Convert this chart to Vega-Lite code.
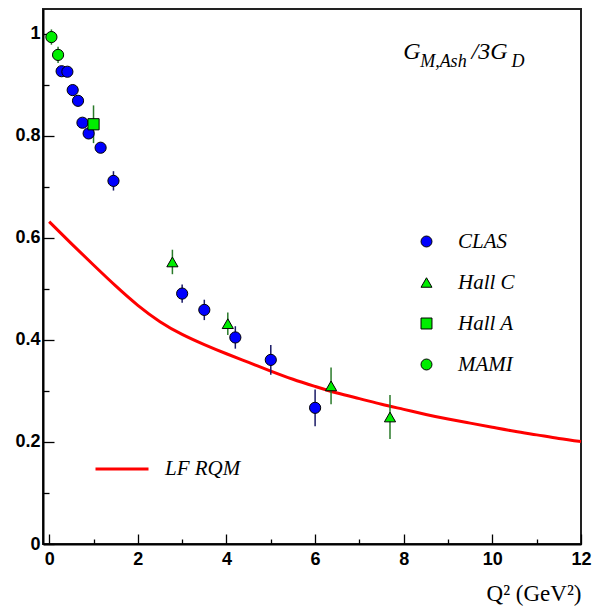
{
  "$schema": "https://vega.github.io/schema/vega-lite/v6.json",
  "width": 538,
  "height": 535,
  "autosize": {"type": "none"},
  "padding": {"left": 43, "top": 9, "right": 11, "bottom": 66},
  "background": "white",
  "config": {
    "view": {"stroke": "#222222", "strokeWidth": 2},
    "axis": {
      "grid": false,
      "domainColor": "black",
      "domainWidth": 2,
      "tickColor": "black",
      "tickWidth": 1.3,
      "labelFont": "Liberation Sans",
      "labelFontWeight": "bold",
      "labelFontSize": 18,
      "labelColor": "black",
      "labelOverlap": false,
      "labelFlush": false
    }
  },
  "datasets": {
    "pts": [
      {"exp": "CLAS", "q2": 0.28, "g": 0.927, "err": 0.006},
      {"exp": "CLAS", "q2": 0.41, "g": 0.926, "err": 0.006},
      {"exp": "CLAS", "q2": 0.53, "g": 0.890, "err": 0.006},
      {"exp": "CLAS", "q2": 0.65, "g": 0.869, "err": 0.006},
      {"exp": "CLAS", "q2": 0.75, "g": 0.826, "err": 0.006},
      {"exp": "CLAS", "q2": 0.89, "g": 0.805, "err": 0.006},
      {"exp": "CLAS", "q2": 1.16, "g": 0.777, "err": 0.010},
      {"exp": "CLAS", "q2": 1.45, "g": 0.712, "err": 0.019},
      {"exp": "CLAS", "q2": 3.0, "g": 0.491, "err": 0.018},
      {"exp": "CLAS", "q2": 3.5, "g": 0.459, "err": 0.020},
      {"exp": "CLAS", "q2": 4.2, "g": 0.405, "err": 0.022},
      {"exp": "CLAS", "q2": 5.0, "g": 0.361, "err": 0.029},
      {"exp": "CLAS", "q2": 6.0, "g": 0.267, "err": 0.036},
      {"exp": "Hall C", "q2": 2.78, "g": 0.553, "err": 0.024},
      {"exp": "Hall C", "q2": 4.03, "g": 0.432, "err": 0.022},
      {"exp": "Hall C", "q2": 6.36, "g": 0.310, "err": 0.036},
      {"exp": "Hall C", "q2": 7.69, "g": 0.249, "err": 0.043},
      {"exp": "Hall A", "q2": 1.0, "g": 0.823, "err": 0.037},
      {"exp": "MAMI", "q2": 0.05, "g": 0.994, "err": 0.015},
      {"exp": "MAMI", "q2": 0.2, "g": 0.959, "err": 0.016}
    ],
    "curve": [
      {"model": "LF RQM", "q2": 0.0, "g": 0.632},
      {"model": "LF RQM", "q2": 0.5, "g": 0.589},
      {"model": "LF RQM", "q2": 1.0, "g": 0.547},
      {"model": "LF RQM", "q2": 1.5, "g": 0.506},
      {"model": "LF RQM", "q2": 2.0, "g": 0.468},
      {"model": "LF RQM", "q2": 2.5, "g": 0.436},
      {"model": "LF RQM", "q2": 3.0, "g": 0.411},
      {"model": "LF RQM", "q2": 3.5, "g": 0.391},
      {"model": "LF RQM", "q2": 4.0, "g": 0.373},
      {"model": "LF RQM", "q2": 4.5, "g": 0.356},
      {"model": "LF RQM", "q2": 5.0, "g": 0.339},
      {"model": "LF RQM", "q2": 5.5, "g": 0.323},
      {"model": "LF RQM", "q2": 6.0, "g": 0.309},
      {"model": "LF RQM", "q2": 6.5, "g": 0.296},
      {"model": "LF RQM", "q2": 7.0, "g": 0.285},
      {"model": "LF RQM", "q2": 7.5, "g": 0.274},
      {"model": "LF RQM", "q2": 8.0, "g": 0.264},
      {"model": "LF RQM", "q2": 8.5, "g": 0.254},
      {"model": "LF RQM", "q2": 9.0, "g": 0.245},
      {"model": "LF RQM", "q2": 9.5, "g": 0.237},
      {"model": "LF RQM", "q2": 10.0, "g": 0.229},
      {"model": "LF RQM", "q2": 10.5, "g": 0.221},
      {"model": "LF RQM", "q2": 11.0, "g": 0.214},
      {"model": "LF RQM", "q2": 11.5, "g": 0.207},
      {"model": "LF RQM", "q2": 12.0, "g": 0.201}
    ],
    "one": [{}]
  },
  "layer": [
    {
      "data": {"name": "curve"},
      "mark": {"type": "line", "strokeWidth": 3, "interpolate": "natural"},
      "encoding": {
        "x": {
          "field": "q2", "type": "quantitative", "title": "Q² (GeV²)",
          "scale": {"domain": [-0.14, 12], "nice": false, "zero": false},
          "axis": {
            "values": [0, 0.5, 1, 1.5, 2, 2.5, 3, 3.5, 4, 4.5, 5, 5.5, 6, 6.5, 7, 7.5, 8, 8.5, 9, 9.5, 10, 10.5, 11, 11.5, 12],
            "labelExpr": "round(datum.value*10) % 20 == 0 ? toString(datum.value) : ''",
            "tickSize": {"condition": {"test": "round(datum.value*10) % 20 == 0", "value": -10}, "value": -5},
            "labelPadding": 16,
            "titleFont": "Liberation Serif",
            "titleFontWeight": "normal",
            "titleFontSize": 23,
            "titleColor": "black",
            "titleAnchor": "end",
            "titleAlign": "right",
            "titleBaseline": "alphabetic",
            "titleY": 56
          }
        },
        "y": {
          "field": "g", "type": "quantitative", "title": null,
          "scale": {"domain": [0, 1.049], "nice": false},
          "axis": {
            "values": [0, 0.05, 0.1, 0.15, 0.2, 0.25, 0.3, 0.35, 0.4, 0.45, 0.5, 0.55, 0.6, 0.65, 0.7, 0.75, 0.8, 0.85, 0.9, 0.95, 1.0],
            "labelExpr": "round(datum.value*100) % 20 == 0 ? toString(round(datum.value*10)/10) : ''",
            "tickSize": {"condition": {"test": "round(datum.value*100) % 20 == 0", "value": -11}, "value": -6},
            "labelPadding": 14
          }
        },
        "stroke": {
          "field": "model", "type": "nominal",
          "scale": {"range": ["#ff0000"]},
          "legend": {
            "orient": "none", "legendX": 51, "legendY": 432, "title": null, "padding": 0,
            "symbolType": "stroke", "symbolSize": 2809, "symbolStrokeWidth": 3,
            "labelFont": "Liberation Serif", "labelFontStyle": "italic", "labelFontSize": 21,
            "labelColor": "black", "labelOffset": 15
          }
        }
      }
    },
    {
      "data": {"name": "pts"},
      "mark": {"type": "errorbar", "ticks": false, "thickness": 1.5},
      "encoding": {
        "x": {"field": "q2", "type": "quantitative"},
        "y": {"field": "g", "type": "quantitative", "title": null},
        "yError": {"field": "err"},
        "color": {
          "field": "exp", "type": "nominal",
          "scale": {"domain": ["CLAS", "Hall C", "Hall A", "MAMI"], "range": ["#1a1a66", "#2a7a2a", "#2a7a2a", "#2a7a2a"]},
          "legend": null
        }
      }
    },
    {
      "data": {"name": "pts"},
      "mark": {"type": "point", "filled": true, "opacity": 1, "stroke": "black", "strokeWidth": 1, "size": 125},
      "encoding": {
        "x": {"field": "q2", "type": "quantitative"},
        "y": {"field": "g", "type": "quantitative", "title": null},
        "fill": {
          "field": "exp", "type": "nominal",
          "scale": {"domain": ["CLAS", "Hall C", "Hall A", "MAMI"], "range": ["#0000ff", "#00ee00", "#00ee00", "#00ee00"]},
          "legend": {
            "orient": "none", "legendX": 373, "legendY": 222, "title": null, "padding": 0,
            "symbolSize": 120, "symbolStrokeColor": "black", "symbolStrokeWidth": 1, "symbolOpacity": 1,
            "rowPadding": 19, "labelOffset": 21,
            "labelFont": "Liberation Serif", "labelFontStyle": "italic", "labelFontSize": 21, "labelColor": "black",
            "encode": {"symbols": {"update": {"stroke": {"value": "black"}, "strokeWidth": {"value": 1}}}}
          }
        },
        "shape": {
          "field": "exp", "type": "nominal",
          "scale": {"domain": ["CLAS", "Hall C", "Hall A", "MAMI"], "range": ["circle", "triangle-up", "square", "circle"]},
          "legend": {
            "orient": "none", "legendX": 373, "legendY": 222, "title": null, "padding": 0,
            "symbolSize": 120, "symbolStrokeColor": "black", "symbolStrokeWidth": 1, "symbolOpacity": 1,
            "rowPadding": 19, "labelOffset": 21,
            "labelFont": "Liberation Serif", "labelFontStyle": "italic", "labelFontSize": 21, "labelColor": "black",
            "encode": {"symbols": {"update": {"stroke": {"value": "black"}, "strokeWidth": {"value": 1}}}}
          }
        }
      }
    },
    {
      "data": {"name": "one"},
      "mark": {"type": "text", "font": "Liberation Serif", "fontStyle": "italic", "fontSize": 24, "align": "left", "baseline": "alphabetic", "color": "black"},
      "encoding": {"x": {"datum": 7.99}, "y": {"datum": 0.951}, "text": {"value": "G"}}
    },
    {
      "data": {"name": "one"},
      "mark": {"type": "text", "font": "Liberation Serif", "fontStyle": "italic", "fontSize": 18, "align": "left", "baseline": "alphabetic", "color": "black"},
      "encoding": {"x": {"datum": 8.37}, "y": {"datum": 0.935}, "text": {"value": "M,Ash"}}
    },
    {
      "data": {"name": "one"},
      "mark": {"type": "text", "font": "Liberation Serif", "fontStyle": "italic", "fontSize": 24, "align": "left", "baseline": "alphabetic", "color": "black"},
      "encoding": {"x": {"datum": 9.53}, "y": {"datum": 0.951}, "text": {"value": "/3"}}
    },
    {
      "data": {"name": "one"},
      "mark": {"type": "text", "font": "Liberation Serif", "fontStyle": "italic", "fontSize": 24, "align": "left", "baseline": "alphabetic", "color": "black"},
      "encoding": {"x": {"datum": 9.95}, "y": {"datum": 0.951}, "text": {"value": "G"}}
    },
    {
      "data": {"name": "one"},
      "mark": {"type": "text", "font": "Liberation Serif", "fontStyle": "italic", "fontSize": 18, "align": "left", "baseline": "alphabetic", "color": "black"},
      "encoding": {"x": {"datum": 10.43}, "y": {"datum": 0.935}, "text": {"value": "D"}}
    }
  ],
  "resolve": {"scale": {"color": "independent"}}
}
